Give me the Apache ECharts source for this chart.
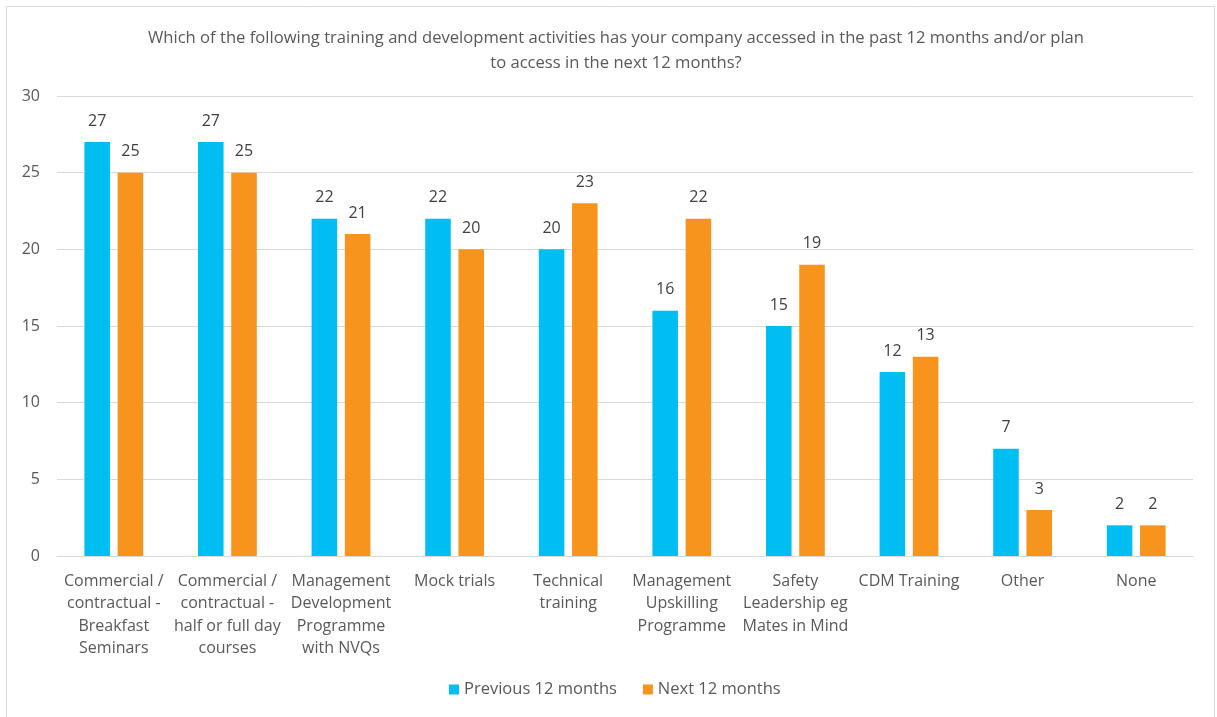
<!DOCTYPE html>
<html>
<head>
<meta charset="utf-8">
<script src="https://cdn.jsdelivr.net/npm/echarts@6/dist/echarts.min.js"></script>
<style>
  html, body { margin: 0; padding: 0; background: #fff; }
  #chart { width: 1217px; height: 717px; }
</style>
</head>
<body>
<div id="chart"></div>
<script>
// Training and development activities survey
const categories = [
  'Commercial /\ncontractual -\nBreakfast\nSeminars',
  'Commercial /\ncontractual -\nhalf or full day\ncourses',
  'Management\nDevelopment\nProgramme\nwith NVQs',
  'Mock trials',
  'Technical\ntraining',
  'Management\nUpskilling\nProgramme',
  'Safety\nLeadership eg\nMates in Mind',
  'CDM Training',
  'Other',
  'None'
];
const previous12 = [27, 27, 22, 22, 20, 16, 15, 12, 7, 2];
const next12 = [25, 25, 21, 20, 23, 22, 19, 13, 3, 2];
const seriesNames = ['Previous 12 months', 'Next 12 months'];
const titleText = 'Which of the following training and development activities has your company accessed in the past 12 months and/or plan\nto access in the next 12 months?';

const FONT = '"Open Sans", "Noto Sans", sans-serif';
const chart = echarts.init(document.getElementById('chart'), null, { renderer: 'canvas' });

const labelStyle = {
  show: true,
  position: 'top',
  distance: 13,
  color: '#404040',
  fontSize: 16,
  fontFamily: FONT
};

chart.setOption({
  animation: false,
  backgroundColor: '#fff',
  title: {
    text: titleText,
    left: 611,
    textAlign: 'center',
    top: 21,
    textStyle: {
      color: '#595959',
      fontSize: 16.6,
      fontWeight: 'normal',
      fontFamily: FONT,
      lineHeight: 25
    }
  },
  graphic: [{
    type: 'rect',
    shape: { x: 6.5, y: 6.5, width: 1208, height: 740 },
    style: { fill: 'none', stroke: '#D9D9D9', lineWidth: 1 },
    silent: true
  }],
  legend: {
    data: seriesNames,
    bottom: 14,
    left: 444,
    itemWidth: 10,
    itemHeight: 10,
    itemGap: 26,
    icon: 'rect',
    textStyle: { color: '#595959', fontSize: 16.5, fontFamily: FONT }
  },
  grid: { left: 57, right: 24, top: 96, bottom: 161, containLabel: false },
  xAxis: {
    type: 'category',
    data: categories,
    axisLine: { show: true, lineStyle: { color: '#D9D9D9', width: 1 } },
    axisTick: { show: false },
    axisLabel: {
      interval: 0,
      color: '#595959',
      fontSize: 16,
      fontFamily: FONT,
      lineHeight: 22.5,
      margin: 14
    }
  },
  yAxis: {
    type: 'value',
    min: 0,
    max: 30,
    interval: 5,
    axisLine: { show: false },
    axisTick: { show: false },
    splitLine: { lineStyle: { color: '#D9D9D9', width: 1 } },
    axisLabel: { color: '#595959', fontSize: 16, fontFamily: FONT, margin: 17 }
  },
  series: [
    {
      name: seriesNames[0],
      type: 'bar',
      data: previous12,
      barWidth: '22.5%',
      barGap: '30%',
      itemStyle: { color: '#00BEF2' },
      label: labelStyle
    },
    {
      name: seriesNames[1],
      type: 'bar',
      data: next12,
      barWidth: '22.5%',
      barGap: '30%',
      itemStyle: { color: '#F7941E' },
      label: labelStyle
    }
  ]
});
</script>
</body>
</html>
